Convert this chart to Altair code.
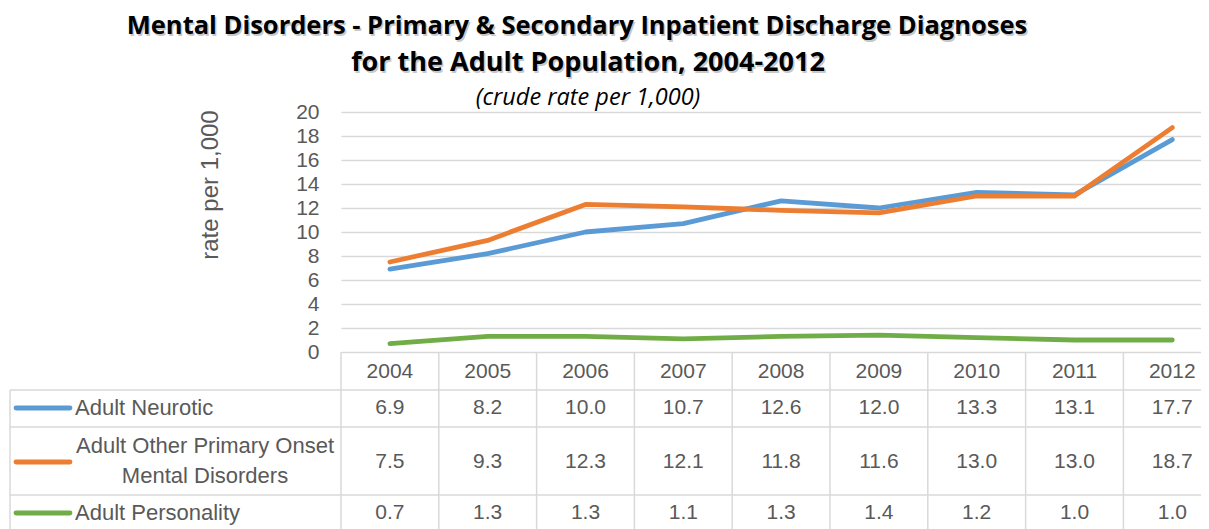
import altair as alt
import pandas as pd

years = [2004, 2005, 2006, 2007, 2008, 2009, 2010, 2011, 2012]
series_names = ["Adult Neurotic", "Adult Other Primary Onset Mental Disorders", "Adult Personality"]
neurotic = [6.9, 8.2, 10.0, 10.7, 12.6, 12.0, 13.3, 13.1, 17.7]
other = [7.5, 9.3, 12.3, 12.1, 11.8, 11.6, 13.0, 13.0, 18.7]
personality = [0.7, 1.3, 1.3, 1.1, 1.3, 1.4, 1.2, 1.0, 1.0]
colors = ["#5B9BD5", "#ED7D31", "#70AD47"]
y_ticks = [0, 2, 4, 6, 8, 10, 12, 14, 16, 18, 20]
title_lines = ["Mental Disorders - Primary & Secondary Inpatient Discharge Diagnoses",
               "for the Adult Population, 2004-2012"]
subtitle = "(crude rate per 1,000)"
y_title = "rate per 1,000"

FONT = "Liberation Sans"
TFONT = "Open Sans"
GRAY = "#595959"
GRID = "#D9D9D9"

W = 860          # plot width (visible)
H = 240          # plot height
COLW = 97.8
row_text_y = [408 - 112, 462 - 112, 513 - 112]   # pixel rows within table (layout)

rows = []
for s, vals, rt in zip(series_names, [neurotic, other, personality], row_text_y):
    for yr, v in zip(years, vals):
        rows.append({"year": yr, "series": s, "value": v, "ty": rt})
df = pd.DataFrame(rows)

xscale = alt.Scale(domain=[2003.5, 2012.5], range=[0, COLW * 9], nice=False, zero=False)
yscale = alt.Scale(domain=[0, 20], nice=False)
cscale = alt.Scale(domain=series_names, range=colors)

lines = alt.Chart(df).mark_line(strokeWidth=4.8, strokeCap="round", strokeJoin="round").encode(
    x=alt.X("year:Q", scale=xscale, axis=None),
    y=alt.Y("value:Q", scale=yscale,
            axis=alt.Axis(values=y_ticks, title=None, domain=False, ticks=False,
                          labelFont=FONT, labelFontSize=21, labelColor=GRAY,
                          labelPadding=22, grid=True, gridColor=GRID, gridWidth=1.3)),
    color=alt.Color("series:N", scale=cscale, legend=None),
)

# table structure
bounds = pd.DataFrame({"b": [2003.5 + k for k in range(10)]})
vrules = alt.Chart(bounds).mark_rule(color=GRID, strokeWidth=1.5).encode(
    x=alt.X("b:Q", scale=xscale), y=alt.value(240), y2=alt.value(430))
hrows = pd.DataFrame({"hy": [390 - 112, 427 - 112, 495 - 112]})
hrules = alt.Chart(hrows).mark_rule(color=GRID, strokeWidth=1.5).encode(
    y=alt.Y("hy:Q", scale=None), x=alt.value(10 - 341), x2=alt.value(COLW * 9))
leftb = alt.Chart(pd.DataFrame({"a": [0]})).mark_rule(color=GRID, strokeWidth=1.5).encode(
    x=alt.value(10 - 341), y=alt.value(390 - 112), y2=alt.value(430))

header = alt.Chart(pd.DataFrame({"year": years})).mark_text(
    font=FONT, fontSize=21, color=GRAY, baseline="middle").encode(
    x=alt.X("year:Q", scale=xscale), y=alt.value(372 - 112), text=alt.Text("year:N"))

cells = alt.Chart(df).mark_text(font=FONT, fontSize=21, color=GRAY, baseline="middle").encode(
    x=alt.X("year:Q", scale=xscale), y=alt.Y("ty:Q", scale=None),
    text=alt.Text("value:Q", format=".1f"))

leg = pd.DataFrame({"series": series_names, "ty": row_text_y})
keys = alt.Chart(leg).mark_rule(strokeWidth=4.8, strokeCap="round").encode(
    x=alt.value(16 - 341), x2=alt.value(70 - 341), y=alt.Y("ty:Q", scale=None),
    color=alt.Color("series:N", scale=cscale, legend=None))

single = pd.DataFrame({"label": [series_names[0], series_names[2]], "ty": [row_text_y[0], row_text_y[2]]})
lab1 = alt.Chart(single).mark_text(font=FONT, fontSize=22, color=GRAY, align="left", baseline="middle").encode(
    x=alt.value(75 - 341), y=alt.Y("ty:Q", scale=None), text="label:N")
two = pd.DataFrame({"label": ["Adult Other Primary Onset", "Mental Disorders"], "ty": [446 - 112, 476 - 112]})
lab2 = alt.Chart(two).mark_text(font=FONT, fontSize=22, color=GRAY, align="center", baseline="middle").encode(
    x=alt.value(205 - 341), y=alt.Y("ty:Q", scale=None), text="label:N")

# titles
tdf = pd.DataFrame({"t": title_lines, "ty": [26 - 112, 63 - 112], "tx": [577 - 341, 588 - 341],
                    "fs": [25.5, 27]})
tshadow = alt.Chart(tdf).mark_text(font=TFONT, fontWeight="bold", color="#C8C8C8",
                                   baseline="middle", dx=1.5, dy=1.5).encode(
    x=alt.X("tx:Q", scale=None), y=alt.Y("ty:Q", scale=None), text="t:N",
    size=alt.Size("fs:Q", scale=None))
ttext = alt.Chart(tdf).mark_text(font=TFONT, fontWeight="bold", color="#000000",
                                 baseline="middle").encode(
    x=alt.X("tx:Q", scale=None), y=alt.Y("ty:Q", scale=None), text="t:N",
    size=alt.Size("fs:Q", scale=None))
sub = alt.Chart(pd.DataFrame({"t": [subtitle]})).mark_text(
    font=TFONT, fontSize=23.5, fontStyle="italic", color="#000000", baseline="middle").encode(
    x=alt.value(588 - 341), y=alt.value(98 - 112), text="t:N")
ytitle = alt.Chart(pd.DataFrame({"t": [y_title]})).mark_text(
    font=FONT, fontSize=24, color=GRAY, baseline="middle", angle=270).encode(
    x=alt.value(211 - 341), y=alt.value(185 - 112), text="t:N")

chart = alt.layer(lines, vrules, hrules, leftb, header, cells, keys, lab1, lab2,
                  tshadow, ttext, sub, ytitle).resolve_scale(y="shared").properties(
    width=W, height=H,
    autosize=alt.AutoSizeParams(type="none"),
    padding={"left": 333, "top": 104, "right": 0, "bottom": 177},
).configure_view(stroke=None)

chart.save("out.html", embed_options={"renderer": "svg", "actions": False})
